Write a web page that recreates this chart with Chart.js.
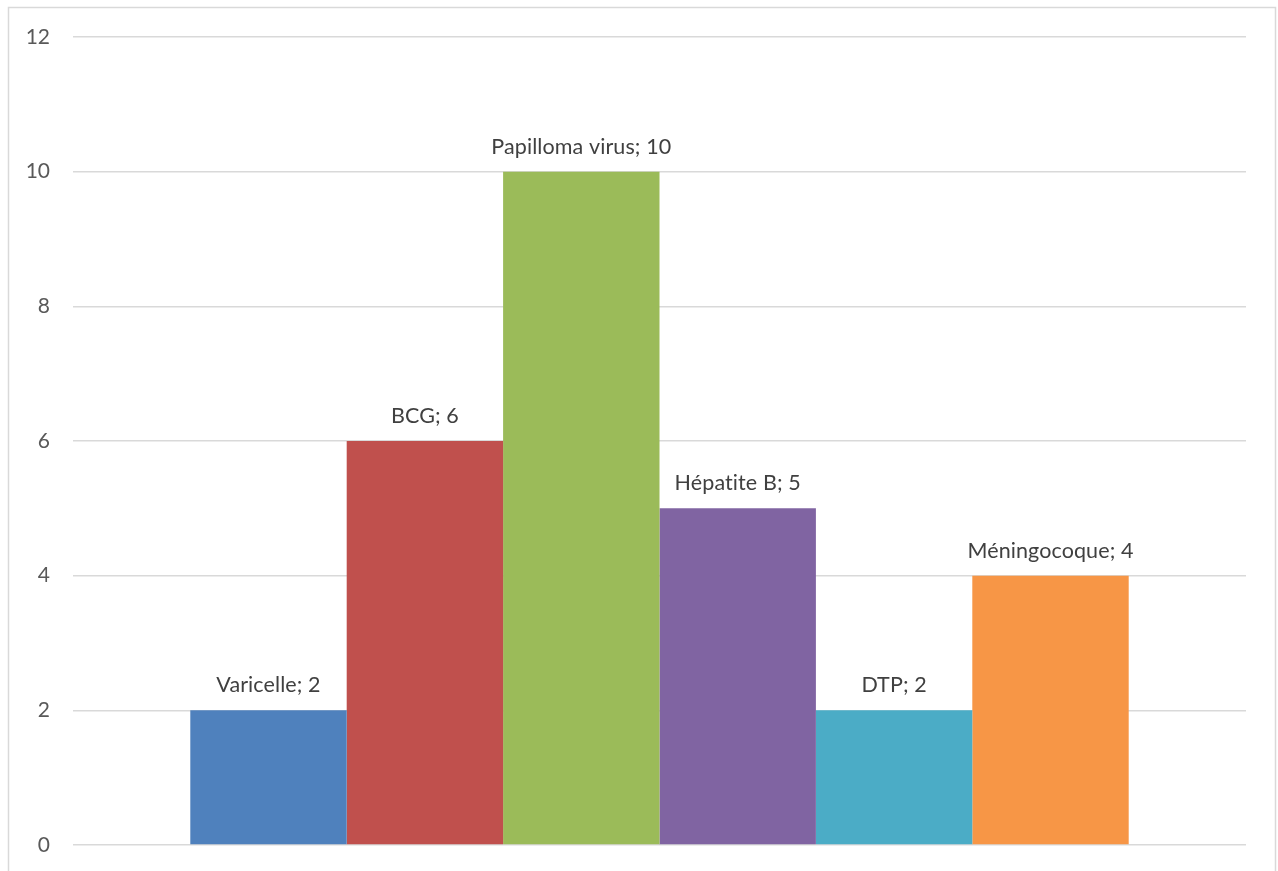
<!DOCTYPE html>
<html>
<head>
<meta charset="utf-8">
<script src="https://cdn.jsdelivr.net/npm/chart.js@4/dist/chart.umd.min.js"></script>
<style>
  html, body { margin: 0; padding: 0; background: #fff; overflow: hidden; }
  #wrap { position: relative; width: 1278px; height: 871px; }
  canvas { display: block; }
</style>
</head>
<body>
<div id="wrap"><canvas id="chart" width="1278" height="871"></canvas></div>
<script>
// données du graphique
const vaccins = ['Varicelle', 'BCG', 'Papilloma virus', 'Hépatite B', 'DTP', 'Méningocoque'];
const valeurs = [2, 6, 10, 5, 2, 4];
const couleurs = ['#4f81bd', '#c0504d', '#9bbb59', '#8064a2', '#4bacc6', '#f79646'];
const yTicks = [0, 2, 4, 6, 8, 10, 12];

// cadre gris autour du graphique
const cadrePlugin = {
  id: 'cadre',
  beforeDraw(chart) {
    const ctx = chart.ctx;
    ctx.save();
    ctx.strokeStyle = '#d9d9d9';
    ctx.lineWidth = 1.5;
    ctx.strokeRect(8.5, 7.5, 1267, 920);
    ctx.restore();
  }
};

// étiquettes "nom; valeur" au-dessus des barres
const etiquettesPlugin = {
  id: 'etiquettes',
  afterDatasetsDraw(chart) {
    const ctx = chart.ctx;
    ctx.save();
    ctx.font = '21.5px Lato';
    ctx.letterSpacing = '0.1px'; // évite la ligature "ti"
    ctx.fillStyle = '#404040';
    ctx.textAlign = 'center';
    ctx.textBaseline = 'middle';
    chart.data.datasets.forEach((ds, i) => {
      const bar = chart.getDatasetMeta(i).data[0];
      ctx.fillText(ds.label + '; ' + ds.data[0], bar.x, bar.y - 25);
    });
    ctx.restore();
  }
};

const datasets = vaccins.map((nom, i) => ({
  label: nom,
  data: [valeurs[i]],
  backgroundColor: couleurs[i],
  borderWidth: 0
}));

new Chart(document.getElementById('chart'), {
  type: 'bar',
  data: { labels: [''], datasets: datasets },
  options: {
    responsive: false,
    animation: false,
    layout: { padding: { top: 37, right: 32, bottom: 26, left: 0 } },
    plugins: { legend: { display: false }, tooltip: { enabled: false } },
    datasets: { bar: { categoryPercentage: 0.8, barPercentage: 1.0 } },
    scales: {
      x: { display: false },
      y: {
        min: 0, max: 12,
        afterFit(scale) {
          scale.width = 73;
          // sinon le padding des ticks réserve de la place en bas
          scale.paddingTop = 0;
          scale.paddingBottom = 0;
        },
        afterBuildTicks(scale) { scale.ticks = yTicks.map(v => ({ value: v })); },
        border: { display: false },
        grid: { color: '#d9d9d9', lineWidth: 1.5, drawTicks: false },
        ticks: { padding: 23, color: '#595959', font: { family: 'Lato', size: 21 } }
      }
    }
  },
  plugins: [cadrePlugin, etiquettesPlugin]
});
</script>
</body>
</html>
